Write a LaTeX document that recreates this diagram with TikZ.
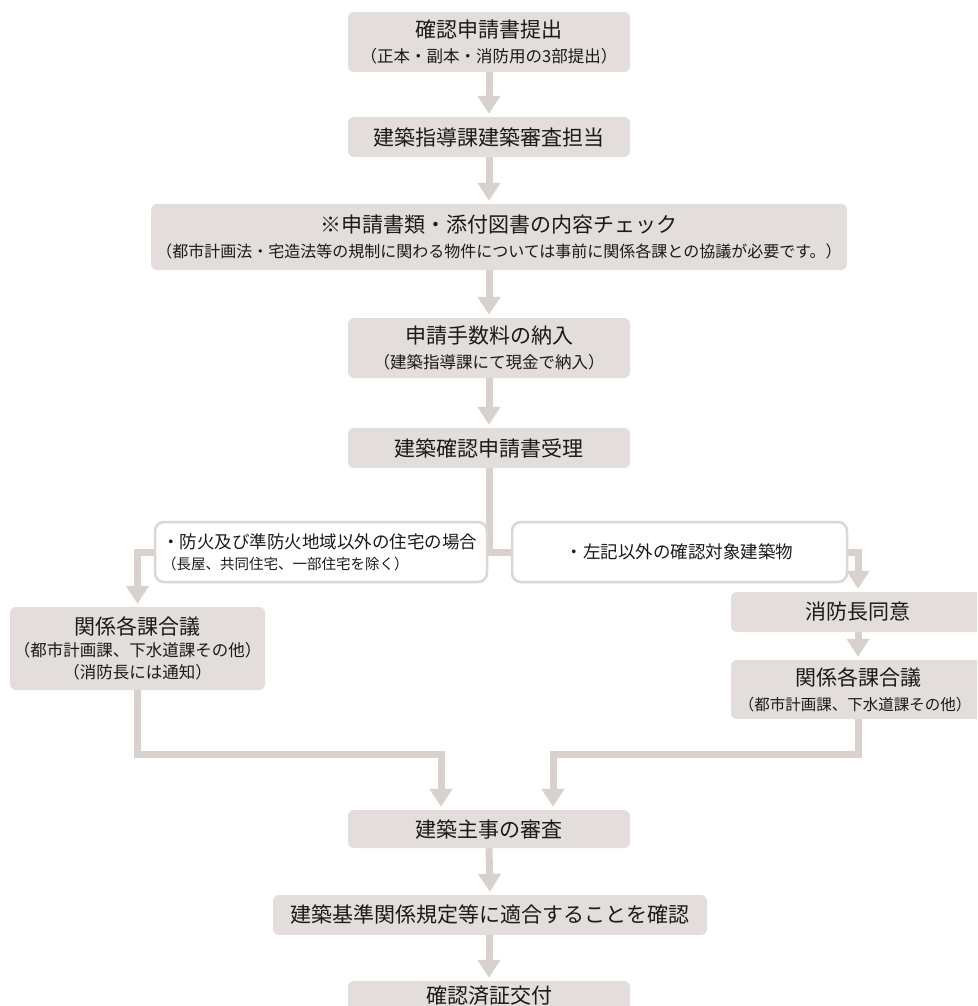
\documentclass[tikz,border=0pt]{standalone}
\usepackage{fontspec}
\setmainfont{Noto Sans CJK JP}
\usetikzlibrary{arrows.meta,calc}
\definecolor{boxg}{HTML}{E3DEDB}
\definecolor{lineg}{HTML}{D8D1CD}
\definecolor{wb}{HTML}{DDD7D3}
\definecolor{txt}{HTML}{1A1A1A}
\pgfdeclarelayer{bg}
\pgfsetlayers{bg,main}
\newcommand\subt[1]{{\fontsize{16.5}{19}\selectfont #1}}
\begin{document}
\begin{tikzpicture}[x=1pt,y=-1pt,
 gbox/.style={fill=boxg, rounded corners=6pt, align=center, text=txt, inner sep=0pt, font=\fontsize{21}{25}\selectfont},
 wbox/.style={fill=white, draw=wb, line width=2.5pt, rounded corners=9pt, text=txt, inner sep=0pt},
 conn/.style={draw=lineg, line width=7pt, line join=miter},
 arr/.style={conn, -{Triangle[width=22pt,length=18pt]}, shorten >=3pt},
]
\useasboundingbox (0,0) rectangle (977,1006);
\clip (0,0) rectangle (977,1006);

\node[gbox, minimum width=282pt, minimum height=60pt] (n1) at (489,42) {確認申請書提出\\\subt{（正本・副本・消防用の3部提出）}};
\node[gbox, minimum width=282pt, minimum height=40pt] (n2) at (489,137) {建築指導課建築審査担当};
\node[gbox, minimum width=696pt, minimum height=66pt] (n3) at (499,237) {※申請書類・添付図書の内容チェック\\{\fontsize{16}{19}\selectfont （都市計画法・宅造法等の規制に関わる物件については事前に関係各課との協議が必要です。）}};
\node[gbox, minimum width=282pt, minimum height=60pt] (n4) at (489,348) {申請手数料の納入\\\subt{（建築指導課にて現金で納入）}};
\node[gbox, minimum width=282pt, minimum height=40pt] (n5) at (489,448) {建築確認申請書受理};

\node[wbox, minimum width=332pt, minimum height=60pt, text width=318pt, align=left, font=\fontsize{17.5}{21}\selectfont] (wl) at (321,552) {・防火及び準防火地域以外の住宅の場合\\{\fontsize{14.5}{17}\selectfont （長屋、共同住宅、一部住宅を除く）}};
\node[wbox, minimum width=335pt, minimum height=60pt, align=center, font=\fontsize{17.5}{21}\selectfont] (wr) at (679.5,552) {・左記以外の確認対象建築物};

\node[gbox, minimum width=255pt, minimum height=83pt, font=\fontsize{21}{22}\selectfont] (lb) at (137.5,648.5) {関係各課合議\\\subt{（都市計画課、下水道課その他）}\\\subt{（消防長には通知）}};
\node[gbox, minimum width=254pt, minimum height=40pt] (fb) at (858,612) {消防長同意};
\node[gbox, minimum width=254pt, minimum height=59pt] (rb) at (858,689.5) {関係各課合議\\{\fontsize{15.5}{19}\selectfont （都市計画課、下水道課その他）\hspace*{6pt}}};

\node[gbox, minimum width=282pt, minimum height=38pt] (sb) at (489,829) {建築主事の審査};
\node[gbox, minimum width=434pt, minimum height=40pt] (kb) at (490,915) {建築基準関係規定等に適合することを確認};
\node[gbox, minimum width=282pt, minimum height=30pt] (zb) at (489,996) {確認済証交付};

\coordinate (j) at (489,552);
\coordinate (cl) at (441,754);
\coordinate (cr) at (553,754);

\begin{pgfonlayer}{bg}
\fill[boxg] (348,990) rectangle (630,1006);
\draw[arr] (n1.south) -- (n2.north);
\draw[arr] (n2.south) -- (n2.south |- n3.north);
\draw[arr] (n2.south |- n3.south) -- (n4.north);
\draw[arr] (n4.south) -- (n5.north);
\draw[conn] (n5.south) -- (j);
\draw[arr] (j) -| (lb.north);
\draw[arr] (j) -| (fb.north);
\draw[arr] (fb.south) -- (rb.north);
\draw[arr] (lb.south) |- (cl) -- (cl |- sb.north);
\draw[arr] (rb.south) |- (cr) -- (cr |- sb.north);
\draw[arr] (sb.south) -- (kb.south |- kb.north);
\draw[arr] (sb.south |- kb.south) -- (zb.north);
\end{pgfonlayer}
\end{tikzpicture}
\end{document}
